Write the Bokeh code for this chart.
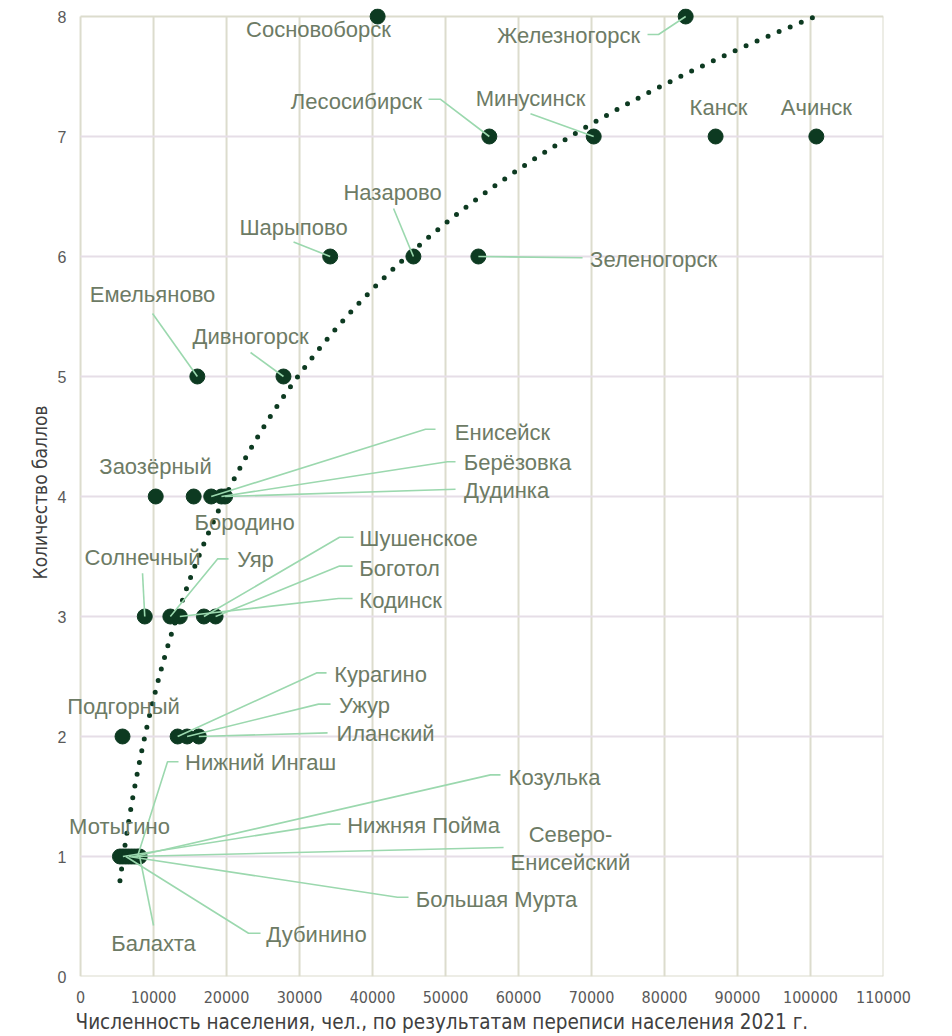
import numpy as np
from bokeh.plotting import figure
from bokeh.models import Range1d, SingleIntervalTicker, NumeralTickFormatter, ColumnDataSource, Title
from bokeh.core.properties import value
from bokeh.embed import file_html
from bokeh.resources import INLINE

# ---------------- data ----------------
cities = [
    "Сосновоборск", "Железногорск",
    "Лесосибирск", "Минусинск", "Канск", "Ачинск",
    "Шарыпово", "Назарово", "Зеленогорск",
    "Емельяново", "Дивногорск",
    "Заозёрный", "Бородино", "Енисейск", "Берёзовка", "Дудинка",
    "Солнечный", "Уяр", "Кодинск", "Шушенское", "Боготол",
    "Подгорный", "Курагино", "Ужур", "Иланский",
    "Мотыгино", "Нижняя Пойма", "Дубинино", "Большая Мурта",
    "Северо-\nЕнисейский", "Козулька", "Нижний Ингаш", "Балахта",
]
population = [
    40700, 82900,
    56000, 70300, 87000, 100800,
    34200, 45600, 54500,
    16000, 27800,
    10300, 15500, 17900, 19300, 19800,
    8800, 12300, 13600, 16900, 18500,
    5750, 13300, 14600, 16200,
    5400, 5800, 6200, 6600,
    7000, 7400, 7800, 8100,
]
scores = [
    8, 8,
    7, 7, 7, 7,
    6, 6, 6,
    5, 5,
    4, 4, 4, 4, 4,
    3, 3, 3, 3, 3,
    2, 2, 2, 2,
    1, 1, 1, 1,
    1, 1, 1, 1,
]

# label anchor positions (data units)
label_x = [
    32600, 66850,
    37800, 61650, 87400, 100800,
    29180, 42750, 78500,
    9860, 23290,
    10270, 22470, 57800, 59860, 58360,
    8490, 23970, 43840, 46300, 43700,
    5890, 41100, 38900, 41780,
    5340, 46990, 32330, 56990,
    67120, 64930, 24660, 10000,
]
label_y = [
    7.89, 7.84,
    7.29, 7.32, 7.24, 7.24,
    6.24, 6.53, 5.975,
    5.68, 5.33,
    4.25, 3.78, 4.53, 4.28, 4.05,
    3.49, 3.475, 3.13, 3.65, 3.40,
    2.25, 2.52, 2.26, 2.025,
    1.25, 1.26, 0.35, 0.64,
    1.067, 1.66, 1.78, 0.275,
]
# leader-line waypoints on the label side (data units); the line then runs to the point
leader_wx = [
    [], [77670, 79180],
    [47670, 49320], [61640], [], [],
    [29180], [42880], [68770],
    [9860], [23290],
    [], [], [48630, 47260], [51370, 50270], [51370],
    [8490], [20270, 18770], [37260, 35340], [37400, 35480], [37260, 35480],
    [], [33700, 32330], [34250, 32600], [33840],
    [], [35620, 33970], [24660, 23010], [44930, 43420],
    [57950], [57530, 56160], [13420, 11920], [10000],
]
leader_wy = [
    [], [7.85, 7.85],
    [7.31, 7.31], [7.19], [], [],
    [6.12], [6.40], [5.99],
    [5.525], [5.2],
    [], [], [4.56, 4.56], [4.29, 4.29], [4.06],
    [3.36], [3.48, 3.48], [3.15, 3.15], [3.66, 3.66], [3.42, 3.42],
    [], [2.53, 2.53], [2.27, 2.27], [2.03],
    [], [1.27, 1.27], [0.36, 0.36], [0.66, 0.66],
    [1.075], [1.68, 1.68], [1.79, 1.79], [0.425],
]

x_ticks = list(range(0, 110001, 10000))
y_ticks = list(range(0, 9))
x_title = "Численность населения, чел., по результатам переписи населения 2021 г."
y_title = "Количество баллов"

# ---------------- styles ----------------
POINT = "#0d3a21"
LABEL = "#6d7b65"
LEADER = "#9bd8ae"
VGRID = "#dcdccd"
HGRID = "#e6dee7"
TICK = "#595959"
NARROW = "DejaVu Sans Condensed"

# frame reaches slightly left of x=0 so that labels near the axis are not clipped
p = figure(width=938, height=1036, output_backend="svg", toolbar_location=None,
           x_range=Range1d(-1650, 110000), y_range=Range1d(0, 968 / 120),
           min_border_left=68, min_border_right=55, min_border_top=8, min_border_bottom=60)
p.outline_line_color = None
p.xgrid.visible = False
p.ygrid.visible = False
p.background_fill_color = "white"

# grid lines drawn over exact data extent
ymax = y_ticks[-1]
xmax = x_ticks[-1]
p.segment(x0=x_ticks, y0=[0] * len(x_ticks), x1=x_ticks, y1=[ymax] * len(x_ticks),
          line_color=VGRID, line_width=2, level="underlay")
inner_y = y_ticks[1:-1]
p.segment(x0=[0] * len(inner_y), y0=inner_y, x1=[xmax] * len(inner_y), y1=inner_y,
          line_color=HGRID, line_width=2, level="underlay")
edge_y = [y_ticks[0], y_ticks[-1]]
p.segment(x0=[0, 0], y0=edge_y, x1=[xmax, xmax], y1=edge_y,
          line_color=VGRID, line_width=2, level="underlay")

# trend (logarithmic fit)
pop = np.array(population, dtype=float)
sc = np.array(scores, dtype=float)
a, b = np.polyfit(np.log(pop), sc, 1)
tx = np.linspace(pop.min(), pop.max(), 400)
ty = a * np.log(tx) + b
p.line(tx, ty, line_color=POINT, line_width=5, line_dash="0 12", line_cap="round")

# points
p.scatter(population, scores, size=15, color=POINT)

# leader lines
xs, ys = [], []
for i in range(len(cities)):
    if leader_wx[i]:
        xs.append(leader_wx[i] + [population[i]])
        ys.append(leader_wy[i] + [scores[i]])
p.multi_line(xs, ys, line_color=LEADER, line_width=1.6)

# data labels
src = ColumnDataSource(dict(x=label_x, y=label_y, t=cities))
p.text(x="x", y="y", text="t", source=src, text_align="center", text_baseline="middle",
       text_font=value("Liberation Sans"), text_font_size="22px", text_color=LABEL,
       text_line_height=1.1)

# axes
for ax in (p.xaxis[0], p.yaxis[0]):
    ax.axis_line_color = None
    ax.major_tick_line_color = None
    ax.minor_tick_line_color = None
    ax.major_label_text_color = TICK

p.xaxis.ticker = SingleIntervalTicker(interval=10000, num_minor_ticks=0)
p.xaxis.formatter = NumeralTickFormatter(format="0")
p.xaxis.major_label_text_font = NARROW
p.xaxis.major_label_text_font_size = "16px"
p.xaxis.major_label_standoff = 8

# x-axis title, placed under the whole chart area as in the original
p.add_layout(Title(text=x_title, align="left", offset=7, standoff=5,
                   text_font=NARROW, text_font_size="20.5px", text_font_style="normal",
                   text_color="#404040"), "below")

p.yaxis.ticker = SingleIntervalTicker(interval=1, num_minor_ticks=0)
p.yaxis.major_label_text_font = "Liberation Sans"
p.yaxis.major_label_text_font_size = "16px"
p.yaxis.major_label_standoff = -4
p.yaxis.axis_label = y_title
p.yaxis.axis_label_standoff = 4
p.yaxis.axis_label_text_color = "#404040"
p.yaxis.axis_label_text_font_style = "normal"
p.yaxis.axis_label_text_font = NARROW
p.yaxis.axis_label_text_font_size = "19px"

open("out.html", "w").write(file_html(p, INLINE))
